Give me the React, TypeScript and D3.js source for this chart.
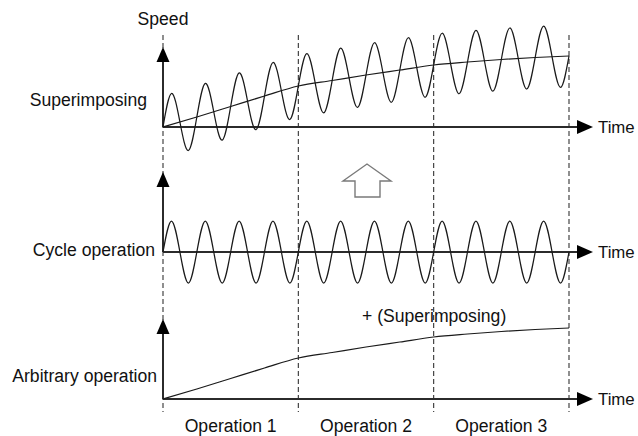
import React from "react"
import * as d3 from "d3"

// time is measured in cycles of the periodic motion (12 cycles, 4 per operation)
const cycleTimes = [0, 1, 2, 3, 4, 5, 6, 7, 8, 9, 10, 11, 12]
// arbitrary operation speed at each cycle boundary
const trendSpeed = [0, 10, 20.5, 31, 41, 46.5, 52, 57, 62, 65, 67.5, 69.5, 71]
// cycle operation, sampled every quarter cycle
const cycleWave = [
  0, 31, 0, -31, 0, 31, 0, -31, 0, 31, 0, -31, 0, 31, 0, -31,
  0, 31, 0, -31, 0, 31, 0, -31, 0, 31, 0, -31, 0, 31, 0, -31,
  0, 31, 0, -31, 0, 31, 0, -31, 0, 31, 0, -31, 0, 31, 0, -31, 0,
]
const opBounds = [0, 4, 8, 12]
const opLabels = ["Operation 1", "Operation 2", "Operation 3"]
const panelLabels = ["Superimposing", "Cycle operation", "Arbitrary operation"]

const W = 638
const H = 436
const font = "'Liberation Sans', Arial, sans-serif"
const fs = 17.6
const axisColor = "#2b2b2b"
const lineColor = "#1a1a1a"

const x = d3.scaleLinear().domain([0, 12]).range([163, 569])
const axisY = [127, 252, 399]
const yScale = (p: number) => d3.scaleLinear().domain([0, 80]).range([axisY[p], axisY[p] - 80])

const trendAt = d3.scaleLinear().domain(cycleTimes).range(trendSpeed)

export default function App() {
  const yTop = yScale(0)
  const yMid = yScale(1)
  const yBot = yScale(2)

  const trendLine = (y: d3.ScaleLinear<number, number>) =>
    d3.line<number>()
      .x((d, i) => x(cycleTimes[i]))
      .y(d => y(d))
      .curve(d3.curveMonotoneX)(trendSpeed) as string

  const waveLine = (y: d3.ScaleLinear<number, number>, withTrend: boolean) =>
    d3.line<number>()
      .x((d, i) => x(i / 4))
      .y((d, i) => y(d + (withTrend ? trendAt(i / 4) : 0)))
      .curve(d3.curveNatural)(cycleWave) as string

  const axes = axisY.map((ay, p) => {
    const x0 = x(0)
    const top = ay - 80
    return (
      <g key={p}>
        <line x1={x0} x2={577} y1={ay} y2={ay} stroke={axisColor} strokeWidth={2} />
        <path d={`M577,${ay - 7}L593,${ay}L577,${ay + 7}Z`} fill="#000" />
        <line x1={x0} x2={x0} y1={ay} y2={top + 14} stroke={axisColor} strokeWidth={2} />
        <path d={`M${x0 - 6.5},${top + 15}L${x0},${top}L${x0 + 6.5},${top + 15}Z`} fill="#000" />
        <text x={598} y={ay + 6} fontSize={16.8} fontFamily={font} fill="#111">Time</text>
      </g>
    )
  })

  return (
    <svg width={W} height={H} style={{ position: "absolute", left: 0, top: 0, background: "#fff" }}>
      {opBounds.map(b => (
        <line key={b} x1={x(b)} x2={x(b)} y1={35} y2={412}
          stroke="#333" strokeWidth={1.1} strokeDasharray="5,3" />
      ))}
      {axes}

      <path d={waveLine(yTop, true)} fill="none" stroke={lineColor} strokeWidth={1.25} />
      <path d={trendLine(yTop)} fill="none" stroke={lineColor} strokeWidth={1.25} />
      <path d={waveLine(yMid, false)} fill="none" stroke={lineColor} strokeWidth={1.25} />
      <path d={trendLine(yBot)} fill="none" stroke={lineColor} strokeWidth={1.25} />

      {/* hollow arrow between panels */}
      <path d="M355,197L355,181L343,181L367,164L391,181L380,181L380,197Z"
        fill="#fff" stroke="#7a7a7a" strokeWidth={1.4} />

      <text x={163} y={25} textAnchor="middle" fontSize={fs} fontFamily={font} fill="#111">Speed</text>
      <text x={147} y={106} textAnchor="end" fontSize={fs} fontFamily={font} fill="#111">{panelLabels[0]}</text>
      <text x={155} y={256} textAnchor="end" fontSize={fs} fontFamily={font} fill="#111">{panelLabels[1]}</text>
      <text x={157} y={382} textAnchor="end" fontSize={fs} fontFamily={font} fill="#111">{panelLabels[2]}</text>
      <text x={362} y={322} fontSize={fs} fontFamily={font} fill="#111">+ (Superimposing)</text>

      {opLabels.map((l, i) => (
        <text key={l} x={(x(opBounds[i]) + x(opBounds[i + 1])) / 2} y={432}
          textAnchor="middle" fontSize={fs} fontFamily={font} fill="#111">{l}</text>
      ))}
    </svg>
  )
}
